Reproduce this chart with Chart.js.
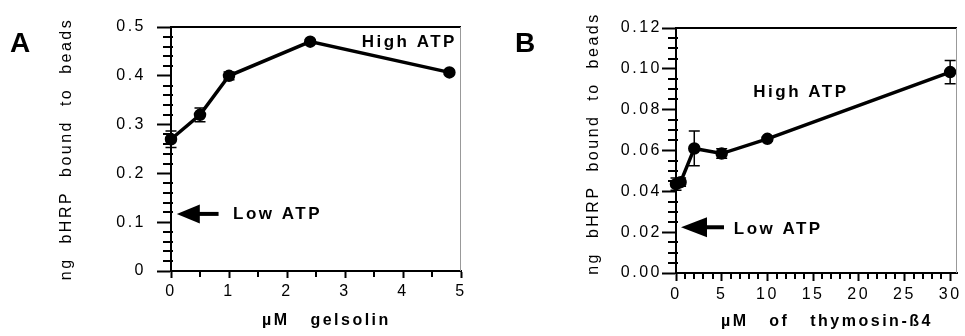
<!DOCTYPE html>
<html>
<head>
<meta charset="utf-8">
<script src="https://cdn.jsdelivr.net/npm/chart.js@4/dist/chart.umd.min.js"></script>
<style>
  html, body { margin: 0; padding: 0; background: #fff; }
  #wrap { position: relative; width: 965px; height: 336px; }
  .panel { position: absolute; top: 0; height: 336px; }
</style>
</head>
<body>
<div id="wrap">
  <div class="panel" style="left:0;width:480px"><canvas id="chartA" width="480" height="336"></canvas></div>
  <div class="panel" style="left:480px;width:485px"><canvas id="chartB" width="485" height="336"></canvas></div>
</div>
<script>
// Panel A - gelsolin
var gelsolinDose = [0, 0.5, 1, 2.4, 4.8];
var gelsolinBound = [0.27, 0.32, 0.40, 0.47, 0.407];
var gelsolinErr = [0.017, 0.014, 0.008, 0.004, 0.004];
var yTicksA = [0, 0.1, 0.2, 0.3, 0.4, 0.5];
var xTicksA = [0, 1, 2, 3, 4, 5];

// Panel B - thymosin-b4
var thymosinDose = [0, 0.5, 2, 5, 10, 30];
var thymosinBound = [0.0435, 0.0445, 0.061, 0.0585, 0.0657, 0.0984];
var thymosinErr = [0.003, 0.002, 0.0085, 0.0023, 0.001, 0.0057];
var yTicksB = [0, 0.02, 0.04, 0.06, 0.08, 0.10, 0.12];
var xTicksB = [0, 5, 10, 15, 20, 25, 30];

Chart.defaults.font.family = "'Liberation Sans', Arial, Helvetica, sans-serif";
Chart.defaults.color = '#000';

// minor tick values per canvas, filled by makePanel
var minorTicks = {};

// major ticks from the list, minor ticks filled in between
function buildTicks(majors, perMajor) {
    var out = [];
    for (var i = 0; i < majors.length; i++) {
        out.push({ value: majors[i], isMajor: true });
        if (i < majors.length - 1) {
            var step = (majors[i + 1] - majors[i]) / perMajor;
            for (var k = 1; k < perMajor; k++) {
                out.push({ value: majors[i] + step * k, isMajor: false });
            }
        }
    }
    return out;
}

function minorsOf(list) {
    return list.filter(function (t) { return !t.isMajor; }).map(function (t) { return t.value; });
}

// frame, minor ticks, error bars, arrow and labels
var panelDeco = {
    id: 'panelDeco',
    beforeDraw: function (chart) {
        chart.ctx.letterSpacing = '2.5px';
    },
    afterDraw: function (chart, args, opts) {
        var ctx = chart.ctx;
        var xs = chart.scales.x, ys = chart.scales.y;
        var area = chart.chartArea;
        var minors = minorTicks[chart.canvas.id];
        ctx.save();

        // top border and thin right border
        ctx.strokeStyle = '#000';
        ctx.lineWidth = 2;
        ctx.beginPath();
        ctx.moveTo(area.left, area.top);
        ctx.lineTo(area.right, area.top);
        ctx.stroke();
        ctx.strokeStyle = '#999';
        ctx.lineWidth = 1;
        ctx.beginPath();
        ctx.moveTo(area.right - 0.5, area.top);
        ctx.lineTo(area.right - 0.5, area.bottom);
        ctx.stroke();

        // minor ticks
        ctx.strokeStyle = '#000';
        ctx.lineWidth = 2;
        ctx.beginPath();
        minors.y.forEach(function (v) {
            var py = Math.round(ys.getPixelForValue(v));
            ctx.moveTo(area.left - 8, py);
            ctx.lineTo(area.left + 2, py);
        });
        minors.x.forEach(function (v) {
            var px = Math.round(xs.getPixelForValue(v));
            ctx.moveTo(px, area.bottom);
            ctx.lineTo(px, area.bottom + 6);
        });
        ctx.stroke();

        // error bars
        chart.data.datasets.forEach(function (ds) {
            ctx.lineWidth = 1.5;
            ds.data.forEach(function (p, i) {
                var e = ds.errors[i];
                var px = xs.getPixelForValue(p.x);
                var top = ys.getPixelForValue(p.y + e);
                var bot = ys.getPixelForValue(p.y - e);
                ctx.beginPath();
                ctx.moveTo(px, top); ctx.lineTo(px, bot);
                ctx.moveTo(px - 5.5, top); ctx.lineTo(px + 5.5, top);
                ctx.moveTo(px - 5.5, bot); ctx.lineTo(px + 5.5, bot);
                ctx.stroke();
            });
        });

        // "Low ATP" arrow
        var a = opts.arrow;
        var tipX = xs.getPixelForValue(a.tipX), tailX = xs.getPixelForValue(a.tailX);
        var ay = ys.getPixelForValue(a.y);
        ctx.fillStyle = '#000';
        ctx.lineWidth = 4;
        ctx.beginPath();
        ctx.moveTo(tipX + a.head - 2, ay);
        ctx.lineTo(tailX, ay);
        ctx.stroke();
        ctx.beginPath();
        ctx.moveTo(tipX, ay);
        ctx.lineTo(tipX + a.head, ay - a.half);
        ctx.lineTo(tipX + a.head, ay + a.half);
        ctx.closePath();
        ctx.fill();

        // text notes
        ctx.letterSpacing = '2.5px';
        ctx.font = 'bold 17px ' + Chart.defaults.font.family;
        ctx.textBaseline = 'alphabetic';
        opts.notes.forEach(function (n) {
            ctx.textAlign = n.align;
            ctx.fillText(n.text, xs.getPixelForValue(n.x), ys.getPixelForValue(n.y));
        });

        // panel letter
        ctx.letterSpacing = '0px';
        ctx.font = 'bold 28px ' + Chart.defaults.font.family;
        ctx.textAlign = 'left';
        ctx.fillText(opts.letter, opts.letterX, 52);
        ctx.restore();
    }
};

function makePanel(id, p) {
    var xList = buildTicks(p.xMajors, p.xMinorPer);
    var yList = buildTicks(p.yMajors, p.yMinorPer);
    minorTicks[id] = { x: minorsOf(xList), y: minorsOf(yList) };
    var majorColor = function (c) { return c.tick && c.tick.isMajor ? '#000' : 'rgba(0,0,0,0)'; };

    return new Chart(document.getElementById(id), {
        type: 'line',
        data: {
            datasets: [{
                data: p.x.map(function (x, i) { return { x: x, y: p.y[i] }; }),
                errors: p.err,
                borderColor: '#000',
                backgroundColor: '#000',
                borderWidth: 3.5,
                pointRadius: 4.5,
                pointHoverRadius: 4.5,
                tension: 0,
                clip: false
            }]
        },
        options: {
            responsive: false,
            animation: false,
            layout: { padding: { top: p.top, right: p.right, left: 0, bottom: 0 } },
            plugins: {
                legend: { display: false },
                tooltip: { enabled: false },
                panelDeco: p.deco
            },
            scales: {
                x: {
                    type: 'linear',
                    min: 0,
                    max: p.xMax,
                    afterBuildTicks: function (s) {
                        s.ticks = xList.map(function (t) { return { value: t.value, isMajor: t.isMajor }; });
                    },
                    afterFit: function (s) { s.height = p.xHeight; },
                    grid: {
                        drawOnChartArea: false,
                        tickLength: p.xTickLen,
                        tickWidth: 2,
                        tickColor: majorColor
                    },
                    border: { color: '#000', width: 2 },
                    ticks: {
                        autoSkip: false,
                        maxRotation: 0,
                        padding: 4,
                        font: { size: 16 },
                        callback: function (v, i, ticks) { return ticks[i].isMajor ? String(v) : ''; }
                    },
                    title: {
                        display: true,
                        text: p.xTitle,
                        font: { size: 16, weight: 'bold' },
                        padding: { top: 0, bottom: p.xTitlePad }
                    }
                },
                y: {
                    min: 0,
                    max: p.yMajors[p.yMajors.length - 1],
                    afterBuildTicks: function (s) {
                        s.ticks = yList.map(function (t) { return { value: t.value, isMajor: t.isMajor }; });
                    },
                    afterFit: function (s) { s.width = p.yWidth; },
                    grid: {
                        drawOnChartArea: false,
                        tickLength: 14,
                        tickWidth: 2,
                        tickColor: majorColor
                    },
                    border: { color: '#000', width: 2 },
                    ticks: {
                        autoSkip: false,
                        padding: p.yLabelPad,
                        font: { size: 16 },
                        callback: function (v, i, ticks) { return ticks[i].isMajor ? p.yFormat(v) : ''; }
                    },
                    title: {
                        display: true,
                        text: p.yTitle,
                        font: { size: 16 },
                        padding: { top: p.yTitlePad, bottom: 0 }
                    }
                }
            }
        },
        plugins: [panelDeco]
    });
}

makePanel('chartA', {
    x: gelsolinDose, y: gelsolinBound, err: gelsolinErr,
    xMajors: xTicksA, xMinorPer: 2, xMax: 5,
    yMajors: yTicksA, yMinorPer: 5,
    yFormat: function (v) { return String(Math.round(v * 10) / 10); },
    top: 27, right: 19, yWidth: 171, xHeight: 65,
    xTickLen: 7, yLabelPad: 11, yTitlePad: 57, xTitlePad: 6,
    xTitle: '   µM   gelsolin',
    yTitle: 'ng  bHRP  bound  to  beads',
    deco: {
        letter: 'A', letterX: 10,
        arrow: { tipX: 0.1, tailX: 0.82, y: 0.117, head: 23, half: 9.5 },
        notes: [
            { text: 'High ATP', x: 4.93, y: 0.46, align: 'right' },
            { text: 'Low ATP', x: 1.07, y: 0.106, align: 'left' }
        ]
    }
});

makePanel('chartB', {
    x: thymosinDose, y: thymosinBound, err: thymosinErr,
    xMajors: xTicksB, xMinorPer: 5, xMax: 30.75,
    yMajors: yTicksB, yMinorPer: 4,
    yFormat: function (v) { return v.toFixed(2); },
    top: 28, right: 2, yWidth: 196, xHeight: 63,
    xTickLen: 8, yLabelPad: 0, yTitlePad: 103.5, xTitlePad: 5,
    xTitle: '   µM   of   thymosin-ß4',
    yTitle: '  ng  bHRP  bound  to  beads',
    deco: {
        letter: 'B', letterX: 35,
        arrow: { tipX: 0.55, tailX: 5.25, y: 0.0224, head: 26, half: 10 },
        notes: [
            { text: 'High ATP', x: 8.46, y: 0.0861, align: 'left' },
            { text: 'Low ATP', x: 6.32, y: 0.0193, align: 'left' }
        ]
    }
});
</script>
</body>
</html>
